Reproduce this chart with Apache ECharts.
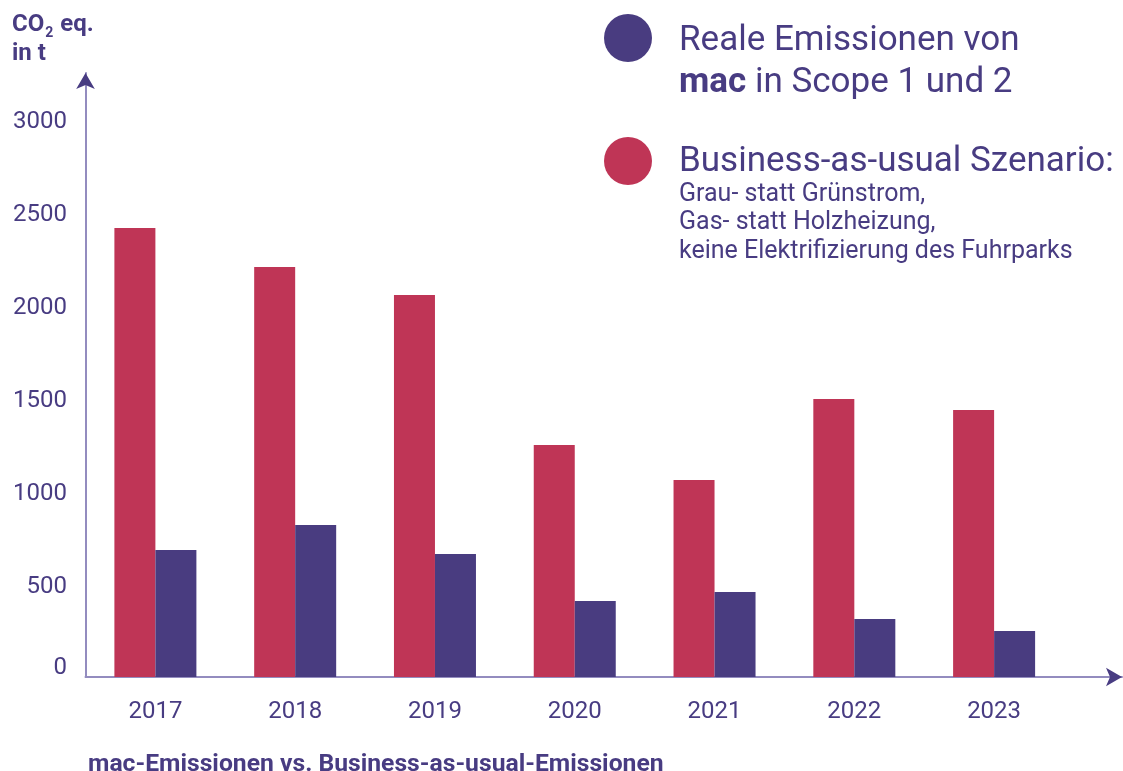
<!DOCTYPE html>
<html><head><meta charset="utf-8">
<script src="https://cdn.jsdelivr.net/npm/echarts@6/dist/echarts.min.js"></script>
<style>html,body{margin:0;padding:0;background:#fff}#c{width:1123px;height:771px}</style>
</head><body><div id="c"></div>
<script>
// ---- data ----
const years = ['2017', '2018', '2019', '2020', '2021', '2022', '2023'];
const businessAsUsual = [2414, 2204, 2054, 1247, 1059, 1495, 1435];
const realEmissions = [683, 817, 661, 409, 457, 312, 247];
const yMin = 0, yMax = 3000, yStep = 500;
const S_REAL = 'Reale Emissionen von mac in Scope 1 und 2';
const S_BAU = 'Business-as-usual Szenario';
const yTitle = '{b|CO}{s|2}{b| eq.}\n{c|in t}';
const bottomTitle = 'mac-Emissionen vs. Business-as-usual-Emissionen';

// ---- styles ----
const TXT = '#483c82', RED = '#bf3556', BLUE = '#493c80', AXIS = '#938cbf';
const FONT = 'Roboto';

const chart = echarts.init(document.getElementById('c'), null, {renderer: 'canvas'});
const hiddenAxis = (gi, color, width, arrow) => ({
  type: 'value', gridIndex: gi, min: 0, max: 1, silent: true,
  axisLine: {show: true, lineStyle: {color: color, width: width},
    symbol: arrow ? ['none', 'arrow'] : ['none', 'none'], symbolSize: [14, 16]},
  axisTick: {show: false}, axisLabel: {show: false}, splitLine: {show: false}
});

const option = {
  animation: false,
  backgroundColor: '#ffffff',
  textStyle: {fontFamily: FONT},
  title: [
    {text: yTitle, left: 12, top: 12.5, padding: 0,
     textStyle: {rich: {
       b: {fontFamily: FONT, fontWeight: 'bold', fontSize: 24, lineHeight: 28, verticalAlign: 'top', color: TXT},
       s: {fontFamily: FONT, fontWeight: 'bold', fontSize: 14, lineHeight: 14, padding: [18, 1, 0, 1], verticalAlign: 'bottom', color: TXT},
       c: {fontFamily: FONT, fontWeight: 'bold', fontSize: 24, lineHeight: 26, color: TXT}
     }}},
    {text: bottomTitle, left: 88, top: 751.5, padding: 0,
     textStyle: {fontFamily: FONT, fontSize: 24.7, fontWeight: 'bold', color: TXT, lineHeight: 26}}
  ],
  legend: [
    {data: [S_REAL], left: 604, top: 14, padding: 0, orient: 'vertical', icon: 'circle',
     itemWidth: 48, itemHeight: 48, selectedMode: false,
     formatter: () => '{a|Reale Emissionen von}\n{b|mac}{a| in Scope 1 und 2}',
     textStyle: {padding: [49, 0, 0, 22], rich: {
       a: {fontFamily: FONT, fontSize: 35, lineHeight: 42, color: TXT},
       b: {fontFamily: FONT, fontSize: 35, lineHeight: 42, fontWeight: 'bold', color: TXT}
     }}},
    {data: [S_BAU], left: 604, top: 137, padding: 0, orient: 'vertical', icon: 'circle',
     itemWidth: 48, itemHeight: 48, selectedMode: false,
     formatter: () => '{a|Business-as-usual Szenario:}\n{c|Grau- statt Grünstrom,}\n{c|Gas- statt Holzheizung,}\n{c|keine Elektrifizierung des Fuhrparks}',
     textStyle: {padding: [88, 0, 0, 22], rich: {
       a: {fontFamily: FONT, fontSize: 35, lineHeight: 36, color: TXT},
       c: {fontFamily: FONT, fontSize: 25, lineHeight: 28.5, color: TXT}
     }}}
  ],
  grid: [
    {left: 85.5, top: 119, right: 59, bottom: 94},
    {left: 85.5, top: 73, right: 1, bottom: 94},
    {left: 85.5, top: 73, right: 1, bottom: 94}
  ],
  xAxis: [
    {type: 'category', data: years, gridIndex: 0,
     axisLine: {show: false}, axisTick: {show: false}, splitLine: {show: false},
     axisLabel: {fontFamily: FONT, fontSize: 24, color: TXT, margin: 23}},
    hiddenAxis(1, AXIS, 2, false),
    hiddenAxis(2, TXT, 0.01, true)
  ],
  yAxis: [
    {type: 'value', gridIndex: 0, min: yMin, max: yMax, interval: yStep,
     axisLine: {show: false}, axisTick: {show: false}, splitLine: {show: false},
     axisLabel: {fontFamily: FONT, fontSize: 24, color: TXT, margin: 18.5, padding: [6, 0, 0, 0],
       formatter: v => v === 0 ? '{z|0}' : String(v),
       rich: {z: {fontFamily: FONT, fontSize: 24, color: TXT, padding: [0, 0, 24, 0]}}}},
    hiddenAxis(1, AXIS, 2, false),
    hiddenAxis(2, TXT, 0.01, true)
  ],
  series: [
    {name: S_BAU, type: 'bar', xAxisIndex: 0, yAxisIndex: 0, data: businessAsUsual,
     barWidth: 41, barGap: '0%', itemStyle: {color: RED}},
    {name: S_REAL, type: 'bar', xAxisIndex: 0, yAxisIndex: 0, data: realEmissions,
     barWidth: 41, barGap: '0%', itemStyle: {color: BLUE}}
  ]
};
chart.setOption(option);
</script>
</body></html>
